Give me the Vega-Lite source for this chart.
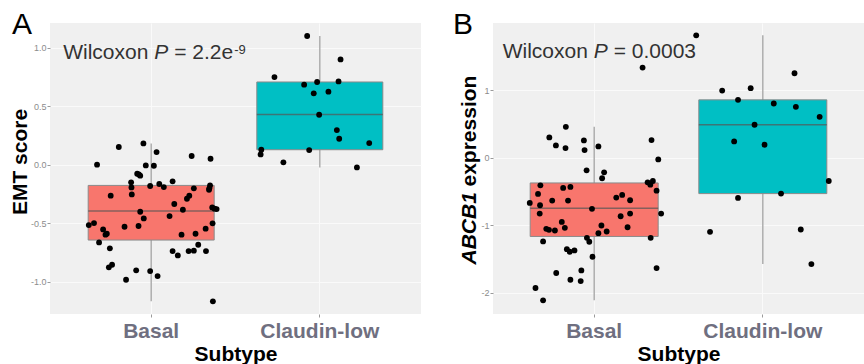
{
  "$schema": "https://vega.github.io/schema/vega-lite/v6.json",
  "padding": {"left": 9, "top": 10, "right": 0, "bottom": 0},
  "background": "white",
  "bounds": "flush",
  "spacing": 72,
  "config": {
    "font": "Liberation Sans",
    "view": {"fill": "#F0F0F0", "stroke": null},
    "axis": {"domain": false, "tickColor": "#9a9a9a", "tickSize": 3, "labelColor": "#8c8c8c", "labelFontSize": 9, "gridColor": "#fafafa", "gridWidth": 1}
  },
  "datasets": {
    "ptsA": [
      {"subtype": "Basal", "jitter": -0.370, "value": -0.516},
      {"subtype": "Basal", "jitter": -0.339, "value": -0.499},
      {"subtype": "Basal", "jitter": -0.321, "value": 0.000},
      {"subtype": "Basal", "jitter": -0.309, "value": -0.664},
      {"subtype": "Basal", "jitter": -0.285, "value": -0.553},
      {"subtype": "Basal", "jitter": -0.271, "value": -0.598},
      {"subtype": "Basal", "jitter": -0.263, "value": -0.590},
      {"subtype": "Basal", "jitter": -0.251, "value": -0.877},
      {"subtype": "Basal", "jitter": -0.245, "value": -0.715},
      {"subtype": "Basal", "jitter": -0.240, "value": -0.265},
      {"subtype": "Basal", "jitter": -0.232, "value": -0.855},
      {"subtype": "Basal", "jitter": -0.192, "value": 0.151},
      {"subtype": "Basal", "jitter": -0.158, "value": -0.530},
      {"subtype": "Basal", "jitter": -0.149, "value": -0.983},
      {"subtype": "Basal", "jitter": -0.119, "value": -0.151},
      {"subtype": "Basal", "jitter": -0.117, "value": -0.194},
      {"subtype": "Basal", "jitter": -0.115, "value": -0.254},
      {"subtype": "Basal", "jitter": -0.089, "value": -0.903},
      {"subtype": "Basal", "jitter": -0.083, "value": -0.077},
      {"subtype": "Basal", "jitter": -0.075, "value": -0.524},
      {"subtype": "Basal", "jitter": -0.073, "value": -0.083},
      {"subtype": "Basal", "jitter": -0.065, "value": -0.094},
      {"subtype": "Basal", "jitter": -0.065, "value": -0.402},
      {"subtype": "Basal", "jitter": -0.046, "value": 0.182},
      {"subtype": "Basal", "jitter": -0.044, "value": -0.459},
      {"subtype": "Basal", "jitter": -0.032, "value": -0.006},
      {"subtype": "Basal", "jitter": -0.006, "value": -0.182},
      {"subtype": "Basal", "jitter": -0.006, "value": -0.909},
      {"subtype": "Basal", "jitter": 0.016, "value": -0.009},
      {"subtype": "Basal", "jitter": 0.032, "value": 0.108},
      {"subtype": "Basal", "jitter": 0.038, "value": -0.952},
      {"subtype": "Basal", "jitter": 0.048, "value": -0.165},
      {"subtype": "Basal", "jitter": 0.075, "value": -0.191},
      {"subtype": "Basal", "jitter": 0.109, "value": -0.439},
      {"subtype": "Basal", "jitter": 0.127, "value": -0.142},
      {"subtype": "Basal", "jitter": 0.137, "value": -0.336},
      {"subtype": "Basal", "jitter": 0.127, "value": -0.738},
      {"subtype": "Basal", "jitter": 0.158, "value": -0.775},
      {"subtype": "Basal", "jitter": 0.180, "value": -0.598},
      {"subtype": "Basal", "jitter": 0.188, "value": -0.385},
      {"subtype": "Basal", "jitter": 0.212, "value": -0.291},
      {"subtype": "Basal", "jitter": 0.226, "value": -0.265},
      {"subtype": "Basal", "jitter": 0.222, "value": -0.738},
      {"subtype": "Basal", "jitter": 0.240, "value": 0.074},
      {"subtype": "Basal", "jitter": 0.253, "value": -0.202},
      {"subtype": "Basal", "jitter": 0.253, "value": -0.735},
      {"subtype": "Basal", "jitter": 0.263, "value": -0.590},
      {"subtype": "Basal", "jitter": 0.279, "value": -0.684},
      {"subtype": "Basal", "jitter": 0.323, "value": -0.547},
      {"subtype": "Basal", "jitter": 0.325, "value": -0.738},
      {"subtype": "Basal", "jitter": 0.349, "value": -0.177},
      {"subtype": "Basal", "jitter": 0.345, "value": -0.202},
      {"subtype": "Basal", "jitter": 0.352, "value": 0.051},
      {"subtype": "Basal", "jitter": 0.343, "value": -0.214},
      {"subtype": "Basal", "jitter": 0.362, "value": -0.365},
      {"subtype": "Basal", "jitter": 0.364, "value": -0.501},
      {"subtype": "Basal", "jitter": 0.366, "value": -1.168},
      {"subtype": "Basal", "jitter": 0.376, "value": -0.376},
      {"subtype": "Basal", "jitter": 0.388, "value": -0.379},
      {"subtype": "Claudin-low", "jitter": -0.075, "value": 1.100},
      {"subtype": "Claudin-low", "jitter": 0.123, "value": 0.900},
      {"subtype": "Claudin-low", "jitter": -0.269, "value": 0.749},
      {"subtype": "Claudin-low", "jitter": -0.093, "value": 0.684},
      {"subtype": "Claudin-low", "jitter": -0.016, "value": 0.707},
      {"subtype": "Claudin-low", "jitter": 0.111, "value": 0.712},
      {"subtype": "Claudin-low", "jitter": -0.036, "value": 0.610},
      {"subtype": "Claudin-low", "jitter": 0.051, "value": 0.624},
      {"subtype": "Claudin-low", "jitter": -0.004, "value": 0.427},
      {"subtype": "Claudin-low", "jitter": 0.101, "value": 0.296},
      {"subtype": "Claudin-low", "jitter": 0.115, "value": 0.222},
      {"subtype": "Claudin-low", "jitter": 0.293, "value": 0.185},
      {"subtype": "Claudin-low", "jitter": -0.347, "value": 0.128},
      {"subtype": "Claudin-low", "jitter": -0.351, "value": 0.088},
      {"subtype": "Claudin-low", "jitter": -0.063, "value": 0.125},
      {"subtype": "Claudin-low", "jitter": -0.216, "value": 0.020},
      {"subtype": "Claudin-low", "jitter": 0.220, "value": -0.023}
    ],
    "ptsB": [
      {"subtype": "Basal", "jitter": -0.382, "value": -0.670},
      {"subtype": "Basal", "jitter": -0.348, "value": -1.931},
      {"subtype": "Basal", "jitter": -0.333, "value": -0.537},
      {"subtype": "Basal", "jitter": -0.319, "value": -0.409},
      {"subtype": "Basal", "jitter": -0.321, "value": -0.704},
      {"subtype": "Basal", "jitter": -0.323, "value": -0.828},
      {"subtype": "Basal", "jitter": -0.303, "value": -1.241},
      {"subtype": "Basal", "jitter": -0.303, "value": -2.113},
      {"subtype": "Basal", "jitter": -0.284, "value": -1.054},
      {"subtype": "Basal", "jitter": -0.268, "value": -1.069},
      {"subtype": "Basal", "jitter": -0.266, "value": 0.300},
      {"subtype": "Basal", "jitter": -0.249, "value": -0.635},
      {"subtype": "Basal", "jitter": -0.227, "value": 0.182},
      {"subtype": "Basal", "jitter": -0.233, "value": -1.079},
      {"subtype": "Basal", "jitter": -0.225, "value": -1.709},
      {"subtype": "Basal", "jitter": -0.184, "value": -0.448},
      {"subtype": "Basal", "jitter": -0.192, "value": -0.951},
      {"subtype": "Basal", "jitter": -0.174, "value": -1.039},
      {"subtype": "Basal", "jitter": -0.168, "value": 0.458},
      {"subtype": "Basal", "jitter": -0.170, "value": 0.143},
      {"subtype": "Basal", "jitter": -0.162, "value": -1.355},
      {"subtype": "Basal", "jitter": -0.155, "value": -0.635},
      {"subtype": "Basal", "jitter": -0.145, "value": -1.394},
      {"subtype": "Basal", "jitter": -0.141, "value": -0.433},
      {"subtype": "Basal", "jitter": -0.141, "value": -1.808},
      {"subtype": "Basal", "jitter": -0.117, "value": -1.374},
      {"subtype": "Basal", "jitter": -0.076, "value": -1.670},
      {"subtype": "Basal", "jitter": -0.080, "value": -1.828},
      {"subtype": "Basal", "jitter": -0.061, "value": 0.256},
      {"subtype": "Basal", "jitter": -0.057, "value": 0.113},
      {"subtype": "Basal", "jitter": -0.045, "value": -0.187},
      {"subtype": "Basal", "jitter": -0.043, "value": -1.187},
      {"subtype": "Basal", "jitter": -0.029, "value": -1.246},
      {"subtype": "Basal", "jitter": -0.013, "value": -0.758},
      {"subtype": "Basal", "jitter": -0.010, "value": -1.468},
      {"subtype": "Basal", "jitter": 0.025, "value": 0.167},
      {"subtype": "Basal", "jitter": 0.025, "value": -1.118},
      {"subtype": "Basal", "jitter": 0.043, "value": -1.005},
      {"subtype": "Basal", "jitter": 0.047, "value": -0.305},
      {"subtype": "Basal", "jitter": 0.059, "value": -0.217},
      {"subtype": "Basal", "jitter": 0.074, "value": -1.094},
      {"subtype": "Basal", "jitter": 0.131, "value": -0.591},
      {"subtype": "Basal", "jitter": 0.166, "value": -0.552},
      {"subtype": "Basal", "jitter": 0.157, "value": -0.867},
      {"subtype": "Basal", "jitter": 0.198, "value": -1.030},
      {"subtype": "Basal", "jitter": 0.213, "value": -0.631},
      {"subtype": "Basal", "jitter": 0.213, "value": -0.828},
      {"subtype": "Basal", "jitter": 0.287, "value": 1.335},
      {"subtype": "Basal", "jitter": 0.317, "value": -0.365},
      {"subtype": "Basal", "jitter": 0.333, "value": -0.399},
      {"subtype": "Basal", "jitter": 0.348, "value": -0.345},
      {"subtype": "Basal", "jitter": 0.340, "value": 0.261},
      {"subtype": "Basal", "jitter": 0.335, "value": -1.187},
      {"subtype": "Basal", "jitter": 0.370, "value": -0.488},
      {"subtype": "Basal", "jitter": 0.370, "value": -1.635},
      {"subtype": "Basal", "jitter": 0.380, "value": -0.025},
      {"subtype": "Basal", "jitter": 0.397, "value": -0.828},
      {"subtype": "Claudin-low", "jitter": -0.395, "value": 1.813},
      {"subtype": "Claudin-low", "jitter": -0.241, "value": 0.995},
      {"subtype": "Claudin-low", "jitter": -0.147, "value": 0.857},
      {"subtype": "Claudin-low", "jitter": -0.072, "value": 1.030},
      {"subtype": "Claudin-low", "jitter": 0.065, "value": 0.803},
      {"subtype": "Claudin-low", "jitter": 0.188, "value": 1.251},
      {"subtype": "Claudin-low", "jitter": 0.196, "value": 0.754},
      {"subtype": "Claudin-low", "jitter": 0.337, "value": 0.606},
      {"subtype": "Claudin-low", "jitter": -0.049, "value": 0.488},
      {"subtype": "Claudin-low", "jitter": -0.170, "value": 0.241},
      {"subtype": "Claudin-low", "jitter": 0.010, "value": 0.192},
      {"subtype": "Claudin-low", "jitter": 0.391, "value": -0.345},
      {"subtype": "Claudin-low", "jitter": -0.147, "value": -0.596},
      {"subtype": "Claudin-low", "jitter": 0.108, "value": -0.532},
      {"subtype": "Claudin-low", "jitter": -0.313, "value": -1.099},
      {"subtype": "Claudin-low", "jitter": 0.225, "value": -1.064},
      {"subtype": "Claudin-low", "jitter": 0.288, "value": -1.576}
    ],
    "boxA": [
      {"subtype": "Basal", "lower": -1.168, "q1": -0.644, "median": -0.396, "q3": -0.177, "upper": 0.182},
      {"subtype": "Claudin-low", "lower": -0.023, "q1": 0.128, "median": 0.430, "q3": 0.707, "upper": 1.100}
    ],
    "boxB": [
      {"subtype": "Basal", "lower": -2.113, "q1": -1.167, "median": -0.749, "q3": -0.374, "upper": 0.458},
      {"subtype": "Claudin-low", "lower": -1.576, "q1": -0.532, "median": 0.488, "q3": 0.857, "upper": 1.813}
    ],
    "annA": [
      {"subtype": "Basal", "y": 0.90, "part": "w", "text": "Wilcoxon"},
      {"subtype": "Basal", "y": 0.90, "part": "p", "text": "P"},
      {"subtype": "Basal", "y": 0.90, "part": "eq", "text": "= 2.2e"},
      {"subtype": "Basal", "y": 0.90, "part": "sup", "text": "-9"}
    ],
    "annB": [
      {"subtype": "Basal", "y": 1.473, "part": "w", "text": "Wilcoxon"},
      {"subtype": "Basal", "y": 1.473, "part": "p", "text": "P"},
      {"subtype": "Basal", "y": 1.473, "part": "eq", "text": "= 0.0003"}
    ]
  },
  "hconcat": [
    {
      "width": 371,
      "height": 291,
      "title": {"text": "A", "anchor": "start", "frame": "group", "orient": "top", "offset": -28, "dx": -38, "dy": 13, "baseline": "alphabetic", "fontSize": 30, "fontWeight": "normal", "color": "black", "font": "Liberation Sans"},
      "resolve": {"scale": {"x": "independent"}},
      "layer": [
        {
          "data": {"name": "boxA"},
          "mark": {"type": "rule", "color": "#a3a3a3", "strokeWidth": 1.3},
          "encoding": {
            "x": {"field": "subtype", "type": "nominal", "bandPosition": 0.5, "scale": {"type": "band", "domain": ["Basal", "Claudin-low"], "paddingInner": 0, "paddingOuter": 0.1},
              "axis": {"title": "Subtype", "labelAngle": 0, "labelFontSize": 21, "labelFontWeight": "bold", "labelColor": "#6f6f80", "labelPadding": 3, "tickSize": 3, "titleFontSize": 21, "titleFontWeight": "bold", "titleColor": "black", "titlePadding": 2, "grid": true, "bandPosition": 0.5}},
            "y": {"field": "lower", "type": "quantitative", "scale": {"domain": [-1.276, 1.211], "nice": false, "zero": false},
              "axis": {"values": [-1, -0.5, 0, 0.5, 1], "labelExpr": "replace(format(datum.value, '.1f'), '\u2212', '-')", "labelPadding": 1, "tickSize": 3, "grid": true,
                "title": "EMT score", "titleFontSize": 21, "titleFontWeight": "bold", "titleColor": "black", "titleAngle": 270, "titleAlign": "center", "titleBaseline": "alphabetic", "titleX": -24, "titleY": 138.5}},
            "y2": {"field": "upper"}
          }
        },
        {
          "data": {"name": "boxA"},
          "mark": {"type": "bar", "size": 126, "stroke": "#8a8a8a", "strokeWidth": 1},
          "encoding": {
            "x": {"field": "subtype", "type": "nominal", "scale": {"type": "band", "domain": ["Basal", "Claudin-low"], "paddingInner": 0, "paddingOuter": 0.1}, "axis": null},
            "y": {"field": "q1", "type": "quantitative"},
            "y2": {"field": "q3"},
            "fill": {"field": "subtype", "type": "nominal", "scale": {"domain": ["Basal", "Claudin-low"], "range": ["#F8766D", "#00BFC4"]}, "legend": null}
          }
        },
        {
          "data": {"name": "boxA"},
          "mark": {"type": "tick", "color": "#555555", "thickness": 1.5, "size": 126},
          "encoding": {
            "x": {"field": "subtype", "type": "nominal", "bandPosition": 0.5, "scale": {"type": "band", "domain": ["Basal", "Claudin-low"], "paddingInner": 0, "paddingOuter": 0.1}, "axis": null},
            "y": {"field": "median", "type": "quantitative"}
          }
        },
        {
          "data": {"name": "ptsA"},
          "mark": {"type": "circle", "size": 34, "color": "black", "opacity": 1},
          "encoding": {
            "x": {"field": "subtype", "type": "nominal", "scale": {"type": "band", "domain": ["Basal", "Claudin-low"], "paddingInner": 0, "paddingOuter": 0.1}, "axis": null},
            "xOffset": {"field": "jitter", "type": "quantitative", "scale": {"domain": [-0.5, 0.5]}},
            "y": {"field": "value", "type": "quantitative"}
          }
        },
        {
          "data": {"name": "annA"},
          "transform": [{"filter": "datum.part == 'w'"}],
          "mark": {"type": "text", "align": "left", "baseline": "alphabetic", "fontSize": 21, "color": "#333333", "dx": -88},
          "encoding": {"x": {"field": "subtype", "type": "nominal", "bandPosition": 0.5, "scale": {"type": "band", "domain": ["Basal", "Claudin-low"], "paddingInner": 0, "paddingOuter": 0.1}, "axis": null}, "y": {"field": "y", "type": "quantitative"}, "text": {"field": "text"}}
        },
        {
          "data": {"name": "annA"},
          "transform": [{"filter": "datum.part == 'p'"}],
          "mark": {"type": "text", "align": "left", "baseline": "alphabetic", "fontSize": 21, "fontStyle": "italic", "color": "#333333", "dx": 3},
          "encoding": {"x": {"field": "subtype", "type": "nominal", "bandPosition": 0.5, "scale": {"type": "band", "domain": ["Basal", "Claudin-low"], "paddingInner": 0, "paddingOuter": 0.1}, "axis": null}, "y": {"field": "y", "type": "quantitative"}, "text": {"field": "text"}}
        },
        {
          "data": {"name": "annA"},
          "transform": [{"filter": "datum.part == 'eq'"}],
          "mark": {"type": "text", "align": "left", "baseline": "alphabetic", "fontSize": 21, "color": "#333333", "dx": 23},
          "encoding": {"x": {"field": "subtype", "type": "nominal", "bandPosition": 0.5, "scale": {"type": "band", "domain": ["Basal", "Claudin-low"], "paddingInner": 0, "paddingOuter": 0.1}, "axis": null}, "y": {"field": "y", "type": "quantitative"}, "text": {"field": "text"}}
        },
        {
          "data": {"name": "annA"},
          "transform": [{"filter": "datum.part == 'sup'"}],
          "mark": {"type": "text", "align": "left", "baseline": "alphabetic", "fontSize": 13, "color": "#333333", "dx": 83, "dy": -5},
          "encoding": {"x": {"field": "subtype", "type": "nominal", "bandPosition": 0.5, "scale": {"type": "band", "domain": ["Basal", "Claudin-low"], "paddingInner": 0, "paddingOuter": 0.1}, "axis": null}, "y": {"field": "y", "type": "quantitative"}, "text": {"field": "text"}}
        }
      ]
    },
    {
      "width": 371,
      "height": 291,
      "title": {"text": "B", "anchor": "start", "frame": "group", "orient": "top", "offset": -28, "dx": -40, "dy": 13, "baseline": "alphabetic", "fontSize": 30, "fontWeight": "normal", "color": "black", "font": "Liberation Sans"},
      "resolve": {"scale": {"x": "independent", "y": "shared"}, "axis": {"y": "independent"}},
      "layer": [
        {
          "data": {"name": "boxB"},
          "mark": {"type": "rule", "color": "#a3a3a3", "strokeWidth": 1.3},
          "encoding": {
            "x": {"field": "subtype", "type": "nominal", "bandPosition": 0.5, "scale": {"type": "band", "domain": ["Basal", "Claudin-low"], "paddingInner": 0, "paddingOuter": 0.1},
              "axis": {"title": "Subtype", "labelAngle": 0, "labelFontSize": 21, "labelFontWeight": "bold", "labelColor": "#6f6f80", "labelPadding": 3, "tickSize": 3, "titleFontSize": 21, "titleFontWeight": "bold", "titleColor": "black", "titlePadding": 2, "grid": true, "bandPosition": 0.5}},
            "y": {"field": "lower", "type": "quantitative", "scale": {"domain": [-2.316, 1.996], "nice": false, "zero": false},
              "axis": {"orient": "left", "values": [-2, -1, 0, 1, 2], "labelExpr": "replace(format(datum.value, 'd'), '\u2212', '-')", "labelPadding": 1, "tickSize": 3, "grid": true,
                "title": "expression", "titleFontSize": 21, "titleFontWeight": "bold", "titleColor": "black", "titleAngle": 270, "titleAlign": "left", "titleBaseline": "alphabetic", "titleX": -18, "titleY": 163}},
            "y2": {"field": "upper"}
          }
        },
        {
          "data": {"name": "boxB"},
          "mark": {"type": "bar", "size": 128, "stroke": "#8a8a8a", "strokeWidth": 1},
          "encoding": {
            "x": {"field": "subtype", "type": "nominal", "scale": {"type": "band", "domain": ["Basal", "Claudin-low"], "paddingInner": 0, "paddingOuter": 0.1}, "axis": null},
            "y": {"field": "q1", "type": "quantitative",
              "axis": {"orient": "left", "labels": false, "ticks": false, "domain": false, "grid": false,
                "title": "ABCB1", "titleFontSize": 21, "titleFontWeight": "bold", "titleFontStyle": "italic", "titleColor": "black", "titleAngle": 270, "titleAlign": "left", "titleBaseline": "alphabetic", "titleX": -18, "titleY": 241}},
            "y2": {"field": "q3"},
            "fill": {"field": "subtype", "type": "nominal", "scale": {"domain": ["Basal", "Claudin-low"], "range": ["#F8766D", "#00BFC4"]}, "legend": null}
          }
        },
        {
          "data": {"name": "boxB"},
          "mark": {"type": "tick", "color": "#555555", "thickness": 1.5, "size": 128},
          "encoding": {
            "x": {"field": "subtype", "type": "nominal", "bandPosition": 0.5, "scale": {"type": "band", "domain": ["Basal", "Claudin-low"], "paddingInner": 0, "paddingOuter": 0.1}, "axis": null},
            "y": {"field": "median", "type": "quantitative", "axis": null}
          }
        },
        {
          "data": {"name": "ptsB"},
          "mark": {"type": "circle", "size": 34, "color": "black", "opacity": 1},
          "encoding": {
            "x": {"field": "subtype", "type": "nominal", "scale": {"type": "band", "domain": ["Basal", "Claudin-low"], "paddingInner": 0, "paddingOuter": 0.1}, "axis": null},
            "xOffset": {"field": "jitter", "type": "quantitative", "scale": {"domain": [-0.5, 0.5]}},
            "y": {"field": "value", "type": "quantitative", "axis": null}
          }
        },
        {
          "data": {"name": "annB"},
          "transform": [{"filter": "datum.part == 'w'"}],
          "mark": {"type": "text", "align": "left", "baseline": "alphabetic", "fontSize": 21, "color": "#333333", "dx": -91.5},
          "encoding": {"x": {"field": "subtype", "type": "nominal", "bandPosition": 0.5, "scale": {"type": "band", "domain": ["Basal", "Claudin-low"], "paddingInner": 0, "paddingOuter": 0.1}, "axis": null}, "y": {"field": "y", "type": "quantitative", "axis": null}, "text": {"field": "text"}}
        },
        {
          "data": {"name": "annB"},
          "transform": [{"filter": "datum.part == 'p'"}],
          "mark": {"type": "text", "align": "left", "baseline": "alphabetic", "fontSize": 21, "fontStyle": "italic", "color": "#333333", "dx": -0.5},
          "encoding": {"x": {"field": "subtype", "type": "nominal", "bandPosition": 0.5, "scale": {"type": "band", "domain": ["Basal", "Claudin-low"], "paddingInner": 0, "paddingOuter": 0.1}, "axis": null}, "y": {"field": "y", "type": "quantitative", "axis": null}, "text": {"field": "text"}}
        },
        {
          "data": {"name": "annB"},
          "transform": [{"filter": "datum.part == 'eq'"}],
          "mark": {"type": "text", "align": "left", "baseline": "alphabetic", "fontSize": 21, "color": "#333333", "dx": 19.5},
          "encoding": {"x": {"field": "subtype", "type": "nominal", "bandPosition": 0.5, "scale": {"type": "band", "domain": ["Basal", "Claudin-low"], "paddingInner": 0, "paddingOuter": 0.1}, "axis": null}, "y": {"field": "y", "type": "quantitative", "axis": null}, "text": {"field": "text"}}
        }
      ]
    }
  ]
}
